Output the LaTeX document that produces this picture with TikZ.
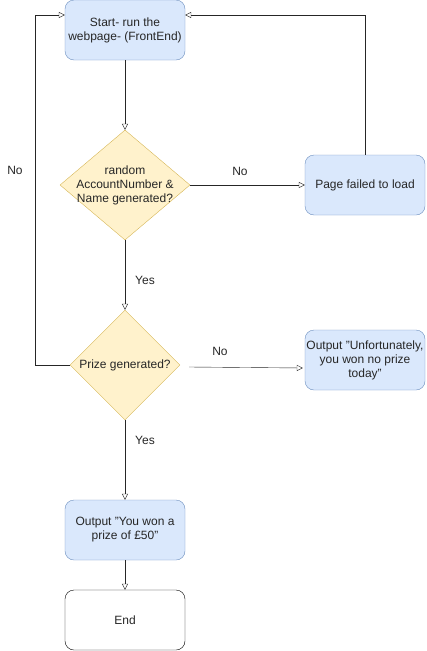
\documentclass[tikz,border=0pt]{standalone}
\usepackage{fontspec}
\setmainfont{Liberation Sans}
\usepackage{tikz}
\usetikzlibrary{arrows.meta, shapes.geometric}
\definecolor{boxblue}{HTML}{DAE8FC}
\definecolor{lineblue}{HTML}{6C8EBF}
\definecolor{boxyellow}{HTML}{FFF2CC}
\definecolor{lineyellow}{HTML}{D6B656}

\begin{document}
\begin{tikzpicture}[x=1pt, y=-1pt,
    font=\fontsize{12}{14}\selectfont,
    every node/.style={align=center, text=black!85},
    procbox/.style={draw=lineblue, fill=boxblue, rounded corners=9pt, minimum width=120pt, minimum height=60pt, inner sep=0pt},
    endbox/.style={draw=black, fill=white, rounded corners=9pt, minimum width=120pt, minimum height=60pt, inner sep=0pt},
    decision/.style={diamond, draw=lineyellow, fill=boxyellow, inner sep=0pt},
    arr/.style={draw=black!85, -{Triangle[open, length=6pt, width=6pt]}}]
    % border
    \useasboundingbox (0,0) rectangle (426,651);
    % boxes
    \node[procbox] (start) at (125,30) {Start- run the\\webpage- (FrontEnd)};
    \node[decision, minimum width=130pt, minimum height=110pt,
          label={[align=center]center:random\\AccountNumber \&\\Name generated?}] (check) at (125,185) {};
    \node[procbox] (fail) at (365,185) {Page failed to load};
    \node[decision, minimum width=110pt, minimum height=110pt,
          label={center:Prize generated?}] (prize) at (125,365) {};
    \node[procbox] (noprize) at (365,360) {Output "Unfortunately,\\you won no prize\\today"};
    \node[procbox] (won) at (125,530) {Output "You won a\\prize of £50"};
    \node[endbox] (end) at (125,620) {End};
    % connectors
    \draw[arr] (start) -- (check);
    \draw[arr] (check) -- (fail);
    \draw[arr] (fail.north) |- ([yshift=15pt]start.east);
    \draw[arr] (check) -- (prize);
    \draw[arr] ([xshift=9pt, yshift=-2pt]prize.east) -- ([xshift=-2pt, yshift=-8pt]noprize.west);
    \draw[arr] (prize.west) -- ++(-35,0) |- ([yshift=15pt]start.west);
    \draw[arr] (prize) -- (won);
    \draw[arr] (won) -- (end);
    % labels
    \node (no1) at (15,170) {No};
    \node (no2) at (240,171) {No};
    \node (yes1) at (145,280) {Yes};
    \node (no3) at (220,351) {No};
    \node (yes2) at (145,440) {Yes};
\end{tikzpicture}
\end{document}
